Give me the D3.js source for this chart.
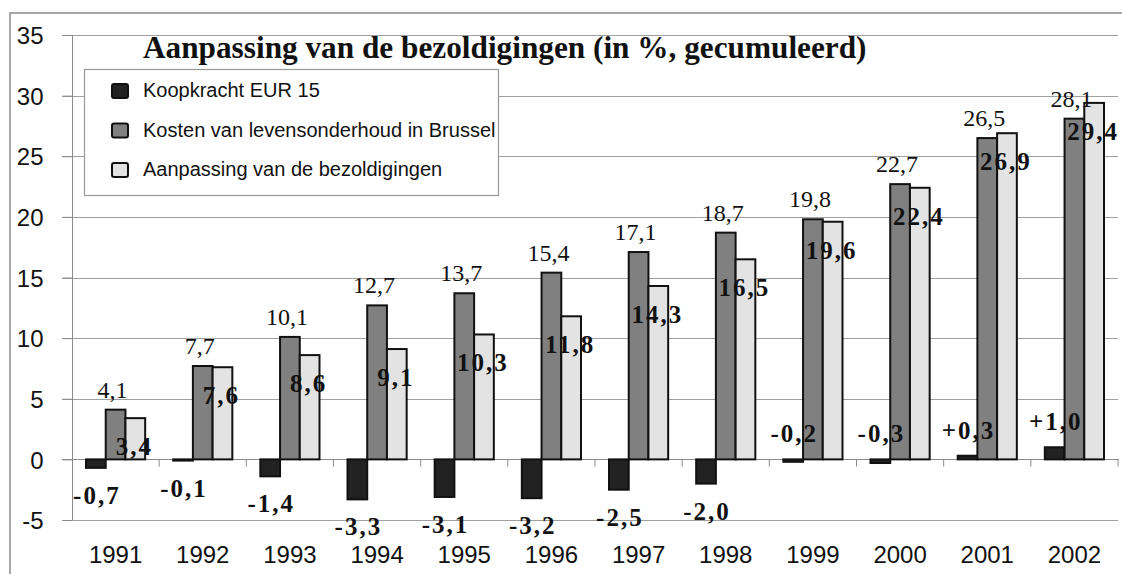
<!DOCTYPE html>
<html>
<head>
<meta charset="utf-8">
<script src="https://cdn.jsdelivr.net/npm/d3@7"></script>
<style>
  html, body { margin: 0; padding: 0; background: #fff; }
  svg { display: block; }
</style>
</head>
<body>
<svg id="chart" width="1122" height="574"></svg>
<script>
// ---- data ----
const years = ["1991","1992","1993","1994","1995","1996","1997","1998","1999","2000","2001","2002"];
const seriesNames = ["Koopkracht EUR 15", "Kosten van levensonderhoud in Brussel", "Aanpassing van de bezoldigingen"];
const koopkracht = [-0.7, -0.1, -1.4, -3.3, -3.1, -3.2, -2.5, -2.0, -0.2, -0.3, 0.3, 1.0];
const kosten = [4.1, 7.7, 10.1, 12.7, 13.7, 15.4, 17.1, 18.7, 19.8, 22.7, 26.5, 28.1];
const aanpassing = [3.4, 7.6, 8.6, 9.1, 10.3, 11.8, 14.3, 16.5, 19.6, 22.4, 26.9, 29.4];
const koopLabelSide = ["below","below","below","below","below","below","below","below","above","above","above","above"];
const yTicks = [-5, 0, 5, 10, 15, 20, 25, 30, 35];
const title = "Aanpassing van de bezoldigingen (in %, gecumuleerd)";

const colors = ["#222222", "#808080", "#e3e3e3"];
const seriesValues = [koopkracht, kosten, aanpassing];

const svg = d3.select("#chart");
const L = 72, R = 1118, T = 35, B = 520;

const x0 = d3.scaleBand().domain(years).range([L, R]).paddingInner(0).paddingOuter(0);
const x1 = d3.scaleBand().domain(d3.range(3)).range([0, x0.bandwidth()]).paddingInner(0).paddingOuter(0.71);
const y = d3.scaleLinear().domain([-5, 35]).range([B, T]);

const fmt = v => v.toFixed(1).replace(".", ",");

// outer frame
svg.append("path").attr("d", "M10,574 L10,13 L1122,13")
  .attr("fill", "none").attr("stroke", "#8a8a8a").attr("stroke-width", 1.5);

// gridlines
svg.append("g").selectAll("line").data(yTicks.filter(t => t !== 0)).join("line")
  .attr("x1", L - 10).attr("x2", R)
  .attr("y1", d => Math.round(y(d)) + 0.5).attr("y2", d => Math.round(y(d)) + 0.5)
  .attr("stroke", "#a0a0a0").attr("stroke-width", 1);

// y axis
const yAxis = d3.axisLeft(y).tickValues(yTicks).tickSize(10).tickFormat(d => d);
const gy = svg.append("g").attr("transform", `translate(${L + 0.5},0)`).call(yAxis);
gy.select(".domain").attr("stroke", "#8a8a8a").attr("d", `M0,${y(-5)}V${y(35)}`);
gy.selectAll(".tick line").attr("stroke", "#8a8a8a");
gy.selectAll(".tick text").attr("x", -29).attr("dy", "0.36em")
  .attr("font-family", "'Liberation Sans', Arial, sans-serif").attr("font-size", 24).attr("fill", "#111");

// zero axis with boundary ticks
const y0 = Math.round(y(0)) + 0.5;
svg.append("line").attr("x1", L - 10).attr("x2", R + 1).attr("y1", y0).attr("y2", y0)
  .attr("stroke", "#8a8a8a").attr("stroke-width", 1);
svg.append("g").selectAll("line").data(years.slice(1).concat(["end"])).join("line")
  .attr("x1", d => d === "end" ? R : x0(d)).attr("x2", d => d === "end" ? R : x0(d))
  .attr("y1", y0).attr("y2", y0 + 7)
  .attr("stroke", "#8a8a8a");

// x labels
svg.append("g").selectAll("text").data(years).join("text")
  .attr("x", d => x0(d) + x0.bandwidth() / 2).attr("y", 563)
  .attr("text-anchor", "middle")
  .attr("font-family", "'Liberation Sans', Arial, sans-serif").attr("font-size", 24).attr("fill", "#111")
  .text(d => d);

// bars
seriesValues.forEach((vals, si) => {
  svg.append("g").selectAll("rect").data(vals).join("rect")
    .attr("x", (d, i) => x0(years[i]) + x1(si))
    .attr("width", x1.bandwidth())
    .attr("y", d => Math.min(y(d), y(0)))
    .attr("height", d => Math.abs(y(d) - y(0)))
    .attr("fill", colors[si]).attr("stroke", "#111").attr("stroke-width", 2);
});

// kosten labels (normal serif above bars)
svg.append("g").selectAll("text").data(kosten).join("text")
  .attr("x", (d, i) => x0(years[i]) + x1(1) + x1.bandwidth() / 2 - 3)
  .attr("y", d => y(d) - 12)
  .attr("text-anchor", "middle")
  .attr("font-family", "'Liberation Serif', 'Times New Roman', serif").attr("font-size", 24).attr("fill", "#111")
  .text(d => fmt(d));

// aanpassing labels (bold, spaced, inside)
svg.append("g").selectAll("text").data(aanpassing).join("text")
  .attr("x", (d, i) => x0(years[i]) + x1(2) + x1.bandwidth() / 2 - 1)
  .attr("y", d => y(d) + 37)
  .attr("text-anchor", "middle")
  .attr("font-family", "'Liberation Serif', 'Times New Roman', serif").attr("font-weight", "bold")
  .attr("font-size", 25).attr("letter-spacing", 2).attr("fill", "#111")
  .text(d => fmt(d));

// koopkracht labels
svg.append("g").selectAll("text").data(koopkracht).join("text")
  .attr("x", (d, i) => x0(years[i]) + x1(0) + x1.bandwidth() / 2 + 1)
  .attr("y", (d, i) => koopLabelSide[i] === "below" ? y(d) + 36 : Math.min(y(d), y(0)) - 17)
  .attr("text-anchor", "middle")
  .attr("font-family", "'Liberation Serif', 'Times New Roman', serif").attr("font-weight", "bold")
  .attr("font-size", 25).attr("letter-spacing", 2).attr("fill", "#111")
  .text(d => (d > 0 ? "+" : "") + fmt(d));

// title
const tt = svg.append("text").attr("x", 143).attr("y", 58)
  .attr("font-family", "'Liberation Serif', 'Times New Roman', serif").attr("font-weight", "bold")
  .attr("font-size", 26).attr("fill", "#111").text(title);
const tw = tt.node().getComputedTextLength();
tt.attr("font-size", 26 * 724 / tw);

// legend
const lg = svg.append("g");
lg.append("rect").attr("x", 84.5).attr("y", 69.5).attr("width", 414).attr("height", 126)
  .attr("fill", "#fff").attr("stroke", "#999").attr("stroke-width", 1.2);
seriesNames.forEach((name, i) => {
  const by = 97 + i * 39.5;
  lg.append("rect").attr("x", 112).attr("y", by - 13).attr("width", 16).attr("height", 14)
    .attr("rx", 2).attr("fill", colors[i]).attr("stroke", "#111").attr("stroke-width", 2);
  lg.append("text").attr("x", 143).attr("y", by)
    .attr("font-family", "'Liberation Sans', Arial, sans-serif").attr("font-size", 20).attr("fill", "#111")
    .text(name);
});
</script>
</body>
</html>
